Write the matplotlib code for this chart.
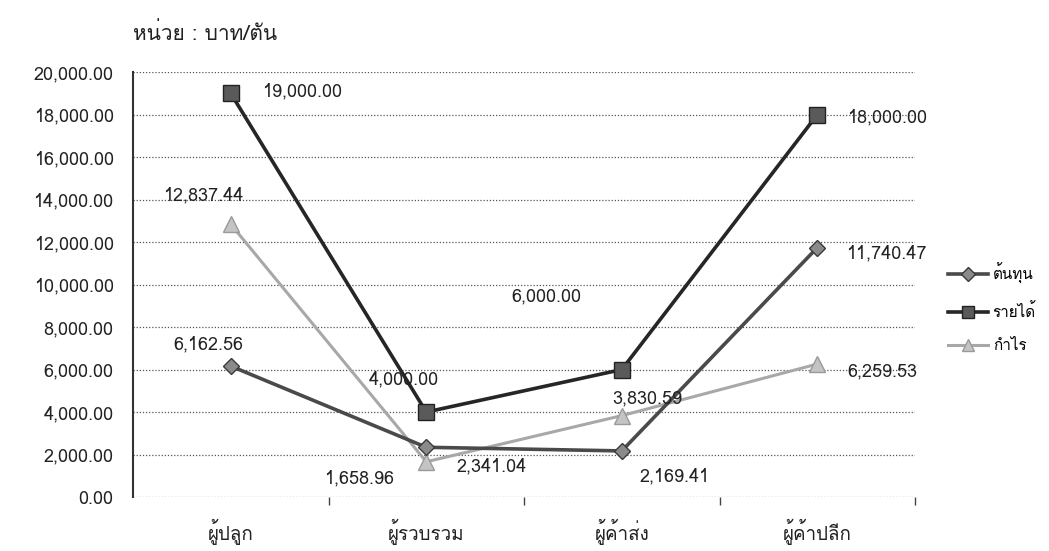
import matplotlib
matplotlib.use('Agg')
import matplotlib.pyplot as plt
from matplotlib import font_manager
from matplotlib.ft2font import FT2Font
from matplotlib.ticker import FuncFormatter, FixedLocator

# ข้อมูล (บาท/ตัน)
categories = ['ผู้ปลูก', 'ผู้รวบรวม', 'ผู้ค้าส่ง', 'ผู้ค้าปลีก']
cost = [6162.56, 2341.04, 2169.41, 11740.47]
income = [19000.00, 4000.00, 6000.00, 18000.00]
profit = [12837.44, 1658.96, 3830.59, 6259.53]
series_names = ['ต้นทุน', 'รายได้', 'กำไร']

# หาฟอนต์ที่มีอักษรไทย
thai_fonts = []
for f in font_manager.fontManager.ttflist:
    try:
        if 0x0E01 in FT2Font(f.fname).get_charmap():
            thai_fonts.append(f.name)
    except Exception:
        pass
plt.rcParams['font.family'] = thai_fonts[:1] + ['DejaVu Sans']

fig = plt.figure(figsize=(10.49, 5.51), dpi=100)
ax = fig.add_axes([0.1268, 0.098, 0.7455, 0.771])

x = range(len(categories))
l1, = ax.plot(x, cost, color='#4a4a4a', lw=2.6, marker='D', ms=8,
              mfc='#8a8a8a', mec='#3a3a3a', mew=1, zorder=4)
l2, = ax.plot(x, income, color='#262626', lw=2.6, marker='s', ms=11,
              mfc='#5a5a5a', mec='#222222', mew=1, zorder=5)
l3, = ax.plot(x, profit, color='#a8a8a8', lw=2.2, marker='^', ms=11,
              mfc='#c4c4c4', mec='#9a9a9a', mew=1, zorder=3)

# ป้ายค่า (ระยะห่างเป็นพิกเซล)
off_cost = [(-22, 22), (65, -19), (53, -25), (69, -6)]
off_income = [(71, 2), (-22, 33), (-75, 73), (70, -3)]
off_profit = [(-28, 29), (-67, -17), (25, 17), (65, -7)]
for vals, offs in [(cost, off_cost), (income, off_income), (profit, off_profit)]:
    for i, v in enumerate(vals):
        ax.annotate('{:,.2f}'.format(v), xy=(i, v), xytext=offs[i],
                    textcoords='offset pixels', ha='center', va='center',
                    fontsize=13, color='#222222', zorder=6)

ax.set_xlim(-0.5, 3.5)
ax.set_ylim(0, 20000)
ax.set_yticks(range(0, 20001, 2000))
ax.yaxis.set_major_formatter(FuncFormatter(lambda v, p: '{:,.2f}'.format(v)))
ax.tick_params(axis='y', length=0, pad=14, labelsize=13, labelcolor='#222222')
ax.set_xticks(list(x))
ax.set_xticklabels(categories)
ax.tick_params(axis='x', which='major', length=0, pad=16, labelsize=13.5, labelcolor='#222222')
ax.xaxis.set_minor_locator(FixedLocator([0.5, 1.5, 2.5, 3.5]))
ax.tick_params(axis='x', which='minor', length=6, width=1, color='#444444', direction='out')

ax.grid(axis='y', color='#555555', linestyle=(0, (1, 1.5)), linewidth=0.9)
ax.set_axisbelow(True)
for s in ['top', 'right', 'bottom']:
    ax.spines[s].set_visible(False)
ax.spines['left'].set_color('#333333')
ax.spines['left'].set_linewidth(1.5)

fig.text(0.1268, 0.94, 'หน่วย : บาท/ตัน', fontsize=15, color='#222222',
         ha='left', va='center')

ax.legend([l1, l2, l3], series_names, loc='center left',
          bbox_to_anchor=(1.025, 0.445), frameon=False, fontsize=11,
          handlelength=2.6, handletextpad=0.3, labelspacing=1.25,
          markerscale=0.85)

fig.savefig('out.png', dpi=100)
